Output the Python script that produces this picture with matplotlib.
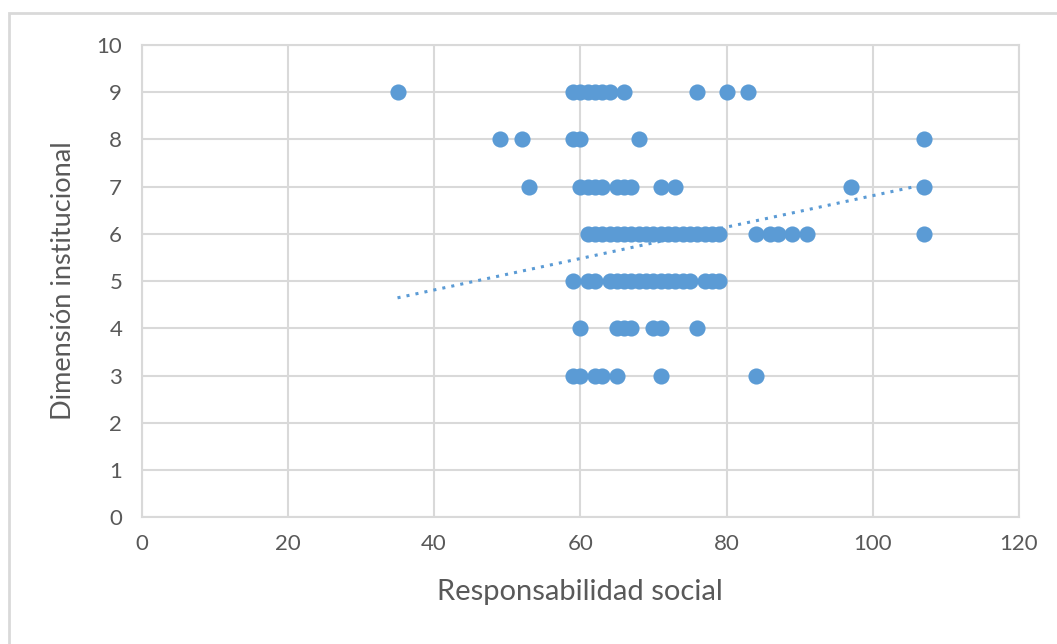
import numpy as np
import matplotlib.pyplot as plt

# Responsabilidad social (x) vs Dimensión institucional (y), one list per y level
x_9 = [35, 59, 60, 61, 62, 63, 64, 66, 76, 80, 83]
x_8 = [49, 52, 59, 60, 68, 107]
x_7 = [53, 60, 61, 62, 63, 65, 66, 67, 71, 73, 97, 107]
x_6 = [61, 62, 63, 64, 65, 66, 67, 68, 69, 70, 71, 72, 73, 74, 75, 76, 77, 78, 79,
       84, 86, 87, 89, 91, 107]
x_5 = [59, 61, 62, 64, 65, 66, 67, 68, 69, 70, 71, 72, 73, 74, 75, 77, 78, 79]
x_4 = [60, 65, 66, 67, 70, 71, 76]
x_3 = [59, 60, 62, 63, 65, 71, 84]

# linear trend (many points overlap, so a refit drifts)
trend_slope = 0.0333
trend_intercept = 3.48

rows = {9: x_9, 8: x_8, 7: x_7, 6: x_6, 5: x_5, 4: x_4, 3: x_3}

xs = []
ys = []
for level, vals in rows.items():
    xs += vals
    ys += [level] * len(vals)
xs = np.array(xs, dtype=float)
ys = np.array(ys, dtype=float)

blue = "#5B9BD5"
grid_c = "#D9D9D9"
text_c = "#595959"

plt.rcParams['font.family'] = ['Lato', 'DejaVu Sans']

fig = plt.figure(figsize=(10.57, 6.44), dpi=100)
ax = fig.add_axes([0.134, 0.197, 0.830, 0.733])

ax.scatter(xs, ys, s=135, color=blue, zorder=3, linewidths=0)

tx = np.array([xs.min(), xs.max()])
ax.plot(tx, trend_slope * tx + trend_intercept, linestyle=(0, (1, 2)),
        color=blue, lw=2.2, zorder=2)

ax.set_xlim(0, 120)
ax.set_ylim(0, 10)
ax.set_xticks(range(0, 121, 20))
ax.set_yticks(range(0, 11))
ax.grid(True, color=grid_c, lw=1.5)
ax.set_axisbelow(True)
for s in ax.spines.values():
    s.set_color(grid_c)
    s.set_linewidth(1.5)
ax.tick_params(length=0, colors=text_c, labelsize=16)
ax.tick_params(axis='x', pad=12)
ax.tick_params(axis='y', pad=14)

ax.set_xlabel("Responsabilidad social", fontsize=21, color=text_c, labelpad=18)
ax.set_ylabel("Dimensión institucional", fontsize=19.5, color=text_c, labelpad=15)

# light frame round the chart area (runs off the right and bottom edges)
fig.patches.append(plt.Rectangle((0.0085, -0.1), 1.2, 1.08, transform=fig.transFigure,
                                 fill=False, edgecolor=grid_c, lw=2))

fig.savefig("out.png", dpi=100)
